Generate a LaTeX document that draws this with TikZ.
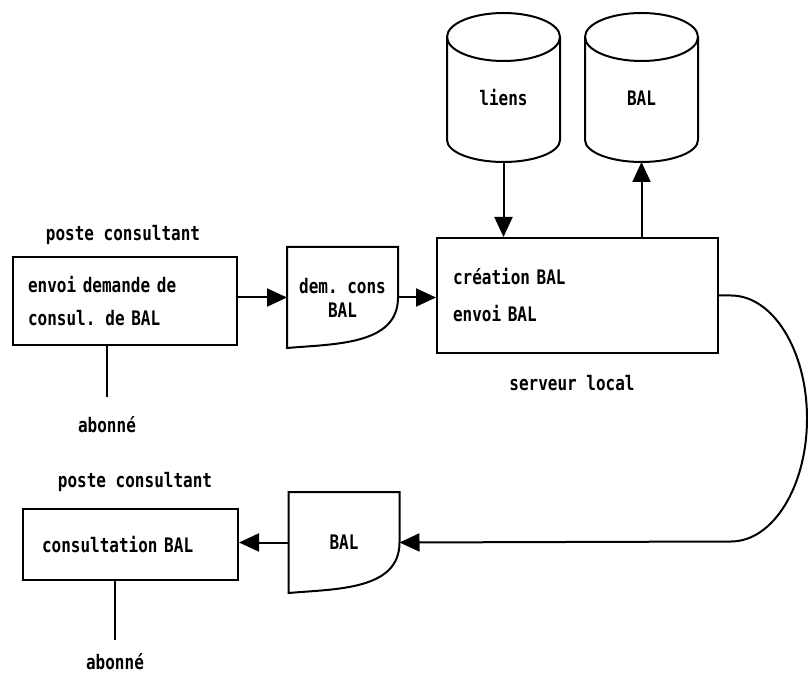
\documentclass[tikz,border=0pt]{standalone}
\usepackage{fontspec}
\newfontfamily\diagfont{DejaVu Sans Mono}[FakeStretch=0.8,WordSpace={1,0,0},PunctuationSpace=WordSpace]
\usetikzlibrary{arrows.meta,calc}

\tikzset{
  arr/.style={-{Triangle[length=10pt,width=9pt]}},
  proc/.style={draw,align=left},
  doc/.style={minimum width=55.5pt,minimum height=50.5pt,align=center,outer sep=0pt},
  cyl/.style={minimum width=56.5pt,minimum height=74.5pt,text height=18pt,text depth=0pt,outer sep=0pt}
}

\begin{document}
\begin{tikzpicture}[x=0.5pt,y=-0.5pt,line width=1pt,font={\diagfont\bfseries\fontsize{10}{12}\selectfont}]
\useasboundingbox (0,0) rectangle (808,673) ;
\node (post1) at (123,235) {poste consultant} ;
\node (env) [proc,text width=97pt,inner xsep=7.5pt,minimum height=44pt] at (125,301) {envoi demande de\\[4.5pt]consul. de BAL} ;
\node (ab1) at (107,425) {abonné} ;
\node (doc1) [doc] at (342.5,297.5) {dem. cons\\BAL} ;
\node (srv) [proc,text width=124.5pt,inner xsep=8pt,minimum height=57.5pt] at (577.5,295.5) {création BAL\\[6.5pt]envoi BAL} ;
\node (srvlbl) at (572,383) {serveur local} ;
\node (liens) [cyl] at (503.5,87.5) {liens} ;
\node (balc) [cyl] at (641.5,87.5) {BAL} ;
\node (post2) at (135,482) {poste consultant} ;
\node (cons) [proc,text width=88.5pt,inner xsep=9.5pt,minimum height=35.5pt] at (130.5,544.5) {consultation BAL} ;
\node (ab2) at (115,662) {abonné} ;
\node (doc2) [doc] at (344,542.5) {BAL} ;
\foreach \d in {doc1,doc2}
  \draw (\d.east) -- (\d.north east) -- (\d.north west) -- (\d.south west) to[out=5,in=-90] (\d.east) ;
\foreach \c in {liens,balc} {
  \draw ($(\c.north)+(0,24)$) ellipse [x radius=28.25pt,y radius=12pt] ;
  \draw ($(\c.north west)+(0,24)$) -- ($(\c.south west)+(0,-22)$) arc [start angle=180,end angle=360,x radius=28.25pt,y radius=11pt] -- ($(\c.north east)+(0,24)$) ;
}
\draw [arr] (env.east |- doc1.west) to (doc1.west) ;
\draw [arr] (doc1.east) to (doc1.east -| srv.west) ;
\draw [arr] (liens.south) to (liens.south |- srv.north) ;
\draw [arr] (balc.south |- srv.north) to (balc.south) ;
\draw [arr] (srv.east) -- ++(12,0) arc [start angle=90,end angle=-90,x radius=38pt,y radius=61.5pt] -- (doc2.east) ;
\draw [arr] (doc2.west) to (doc2.west -| cons.east) ;
\draw [shorten >=6pt] (env.south -| ab1) to (ab1.north) ;
\draw [shorten >=3pt] (cons.south -| ab2) to (ab2.north) ;
\end{tikzpicture}
\end{document}
